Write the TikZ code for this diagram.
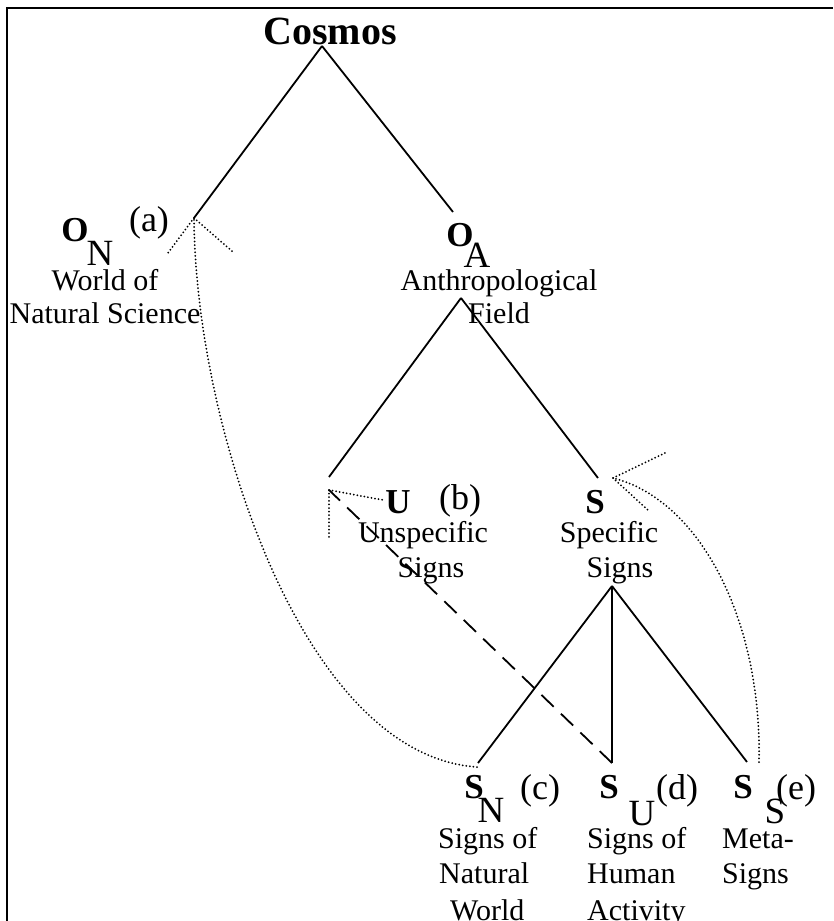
\documentclass[tikz,border=0pt]{standalone}
\usepackage{fontspec}
\setmainfont{Liberation Serif}
\begin{document}
\begin{tikzpicture}[x=1pt,y=-1pt,
  txt/.style={font=\fontsize{30}{35}\selectfont, inner sep=0pt, anchor=base},
  ltxt/.style={font=\fontsize{30}{35}\selectfont, inner sep=0pt, anchor=base west},
  labl/.style={font=\fontsize{36}{40}\selectfont, inner sep=0pt, anchor=base},
  bigl/.style={font=\fontsize{35}{40}\selectfont\bfseries, inner sep=0pt, anchor=base},
  subl/.style={font=\fontsize{37}{40}\selectfont, inner sep=0pt, anchor=base},
  tree/.style={line width=1.8pt},
  frame/.style={line width=2pt},
  dots/.style={line width=2pt, line cap=round, dash pattern=on 0pt off 3.6pt},
  dashline/.style={line width=1.8pt, dash pattern=on 17pt off 10pt}]
\useasboundingbox (0,0) rectangle (833,921);
% frame
\coordinate (frTL) at (7,8);
\coordinate (frTR) at (833,8);
\coordinate (frBL) at (7,921);
\draw[frame] (frBL) -- (frTL) -- (frTR);

% texts
\node[font=\fontsize{40}{44}\selectfont\bfseries, inner sep=0pt, anchor=base] (cosmos) at (330,44) {Cosmos};

\node[bigl] (ON) at (75,241) {O};
\node[subl] (ONsub) at (100,265) {N};
\node[labl] (la) at (149,231) {(a)};
\node[txt] (ON1) at (105,290) {World of};
\node[txt] (ON2) at (105,323) {Natural Science};

\node[bigl] (OA) at (460,246) {O};
\node[subl] (OAsub) at (477,267) {A};
\node[txt] (OA1) at (499,290) {Anthropological};
\node[txt] (OA2) at (499,323) {Field};

\node[bigl] (U) at (398,513) {U};
\node[labl] (lb) at (460,509) {(b)};
\node[txt] (U1) at (423,542) {Unspecific};
\node[txt] (U2) at (431,577) {Signs};

\node[bigl] (S) at (595,513) {S};
\node[txt] (S1) at (609,542) {Specific};
\node[txt] (S2) at (620,577) {Signs};

\node[bigl] (SN) at (474,798) {S};
\node[subl] (SNsub) at (491,822) {N};
\node[labl] (lc) at (540,799) {(c)};
\node[ltxt] (SN1) at (438,848) {Signs of};
\node[ltxt] (SN2) at (439,883) {Natural};
\node[ltxt] (SN3) at (450,920) {World};

\node[bigl] (SU) at (609,798) {S};
\node[subl] (SUsub) at (642,825) {U};
\node[labl] (ld) at (677,799) {(d)};
\node[ltxt] (SU1) at (587,848) {Signs of};
\node[ltxt] (SU2) at (587,883) {Human};
\node[ltxt] (SU3) at (587,920) {Activity};

\node[bigl] (SS) at (743,798) {S};
\node[subl] (SSsub) at (775,823) {S};
\node[labl] (le) at (796,799) {(e)};
\node[ltxt] (SS1) at (722,848) {Meta-};
\node[ltxt] (SS2) at (722,883) {Signs};

% connector points
\coordinate (cApex) at (322,46);
\coordinate (onTop) at (194,218);
\coordinate (oaTop) at (453,212);
\coordinate (oaApex) at (461,298);
\coordinate (uTop) at (329,477);
\coordinate (sTop) at (598,478);
\coordinate (sApex) at (612,586);
\coordinate (snTop) at (478,763);
\coordinate (suTop) at (612,763);
\coordinate (ssTop) at (747,762);
\coordinate (snArr) at (477,767);
\coordinate (ssArr) at (759,762);
\coordinate (uTip) at (329,490);
\coordinate (sTip) at (613,478);

% tree lines
\draw[tree] (cApex) -- (onTop);
\draw[tree] (cApex) -- (oaTop);
\draw[tree] (oaApex) -- (uTop);
\draw[tree] (oaApex) -- (sTop);
\draw[tree] (sApex) -- (snTop);
\draw[tree] (sApex) -- (suTop);
\draw[tree] (sApex) -- (ssTop);

% dotted arrow S_N -> O_N
\draw[dots] (snArr) .. controls (300,755) and (195,420) .. (onTop);
\draw[dots] (onTop) -- ++(-26,35);
\draw[dots] (onTop) -- ++(39,34);

% dashed arrow S_U -> U
\draw[dashline] (suTop) -- (uTip);
\draw[dots] (uTip) -- ++(54,10);
\draw[dots] (uTip) -- ++(0,47);

% dotted arrow S_S -> S
\draw[dots] (ssArr) .. controls (762,620) and (700,500) .. (sTip);
\draw[dots] (sTip) -- ++(52,-25);
\draw[dots] (sTip) -- ++(37,34);
\end{tikzpicture}
\end{document}
